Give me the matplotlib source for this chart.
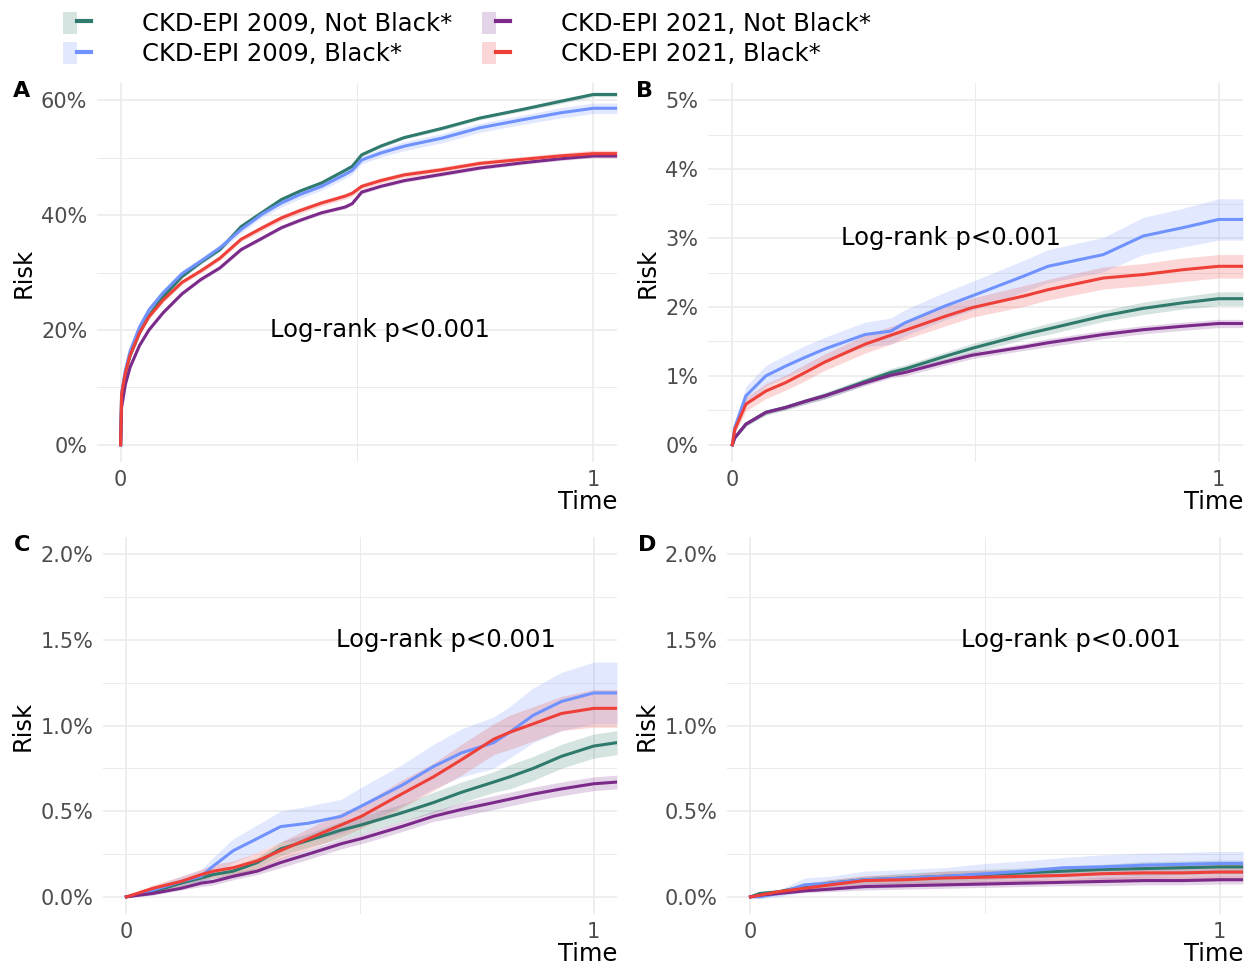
import matplotlib
matplotlib.use("Agg")
import matplotlib.pyplot as plt
from matplotlib.lines import Line2D
from matplotlib.patches import Patch
from matplotlib.legend_handler import HandlerTuple
from matplotlib.ticker import FixedLocator
import numpy as np

LABELS = ["CKD-EPI 2009, Not Black*", "CKD-EPI 2009, Black*",
          "CKD-EPI 2021, Not Black*", "CKD-EPI 2021, Black*"]
COLORS = ["#2F7A6D", "#7092FF", "#7B2A8A", "#EE4038"]

# panel A (risk in %)
A_T = [0, 0.002, 0.01, 0.02, 0.04, 0.06, 0.09, 0.13, 0.17, 0.21, 0.255, 0.3, 0.34,
       0.38, 0.425, 0.475, 0.49, 0.51, 0.55, 0.6, 0.68, 0.76, 0.85, 0.93, 1.0, 1.05]
A_TEAL = [0, 8.5, 12.5, 15.5, 19.5, 22.5, 25.8, 29.3, 31.8, 34.0, 38.0, 40.5, 42.7,
          44.2, 45.6, 47.8, 48.5, 50.5, 52.0, 53.5, 55.1, 56.9, 58.4, 59.8, 61.0, 61.0]
A_BLUE = [0, 9.0, 13.0, 16.3, 20.5, 23.5, 26.5, 29.8, 32.0, 34.3, 37.5, 40.2, 42.1,
          43.6, 45.0, 47.1, 47.8, 49.6, 50.8, 52.0, 53.4, 55.2, 56.6, 57.8, 58.6, 58.6]
A_PURPLE = [0, 6.5, 10.5, 13.5, 17.3, 20.0, 23.0, 26.3, 28.8, 30.8, 34.0, 36.0, 37.8,
            39.1, 40.4, 41.4, 42.0, 44.0, 45.0, 46.0, 47.1, 48.2, 49.1, 49.8, 50.3, 50.3]
A_RED = [0, 8.8, 12.5, 15.6, 19.5, 22.3, 25.2, 28.3, 30.3, 32.5, 35.8, 37.8, 39.5,
         40.8, 42.1, 43.3, 43.8, 45.0, 46.0, 47.0, 47.9, 49.0, 49.7, 50.3, 50.7, 50.7]
A_TEAL_CI = [0, 0.3, 0.3, 0.3, 0.3, 0.3, 0.3, 0.3, 0.3, 0.3, 0.3, 0.3, 0.3,
             0.3, 0.3, 0.3, 0.3, 0.3, 0.3, 0.3, 0.3, 0.3, 0.3, 0.4, 0.4, 0.4]
A_BLUE_CI = [0, 0.5, 0.5, 0.5, 0.5, 0.5, 0.5, 0.6, 0.6, 0.6, 0.6, 0.6, 0.7,
             0.7, 0.7, 0.7, 0.7, 0.7, 0.7, 0.8, 0.8, 0.8, 0.8, 0.9, 0.9, 0.9]
A_PURPLE_CI = [0, 0.3, 0.3, 0.3, 0.3, 0.3, 0.3, 0.3, 0.3, 0.3, 0.3, 0.3, 0.3,
               0.3, 0.3, 0.3, 0.3, 0.3, 0.3, 0.3, 0.3, 0.3, 0.3, 0.3, 0.3, 0.3]
A_RED_CI = [0, 0.4, 0.4, 0.4, 0.4, 0.4, 0.4, 0.4, 0.4, 0.4, 0.4, 0.5, 0.5,
            0.5, 0.5, 0.5, 0.5, 0.5, 0.5, 0.5, 0.5, 0.5, 0.5, 0.5, 0.6, 0.6]

# panel B
B_T = [0, 0.005, 0.028, 0.069, 0.109, 0.15, 0.19, 0.273, 0.326, 0.355, 0.436,
       0.493, 0.6, 0.649, 0.763, 0.845, 0.926, 1.0, 1.05]
B_TEAL = [0, 0.10, 0.30, 0.47, 0.54, 0.63, 0.71, 0.92, 1.05, 1.10, 1.28,
          1.40, 1.60, 1.68, 1.87, 1.98, 2.06, 2.12, 2.12]
B_BLUE = [0, 0.25, 0.71, 1.00, 1.14, 1.27, 1.39, 1.60, 1.65, 1.77, 2.01,
          2.16, 2.45, 2.59, 2.76, 3.03, 3.15, 3.27, 3.27]
B_PURPLE = [0, 0.10, 0.30, 0.47, 0.54, 0.63, 0.71, 0.90, 1.01, 1.05, 1.20,
            1.30, 1.42, 1.48, 1.60, 1.67, 1.72, 1.76, 1.76]
B_RED = [0, 0.22, 0.59, 0.78, 0.90, 1.05, 1.20, 1.46, 1.59, 1.66, 1.86,
         1.99, 2.16, 2.25, 2.42, 2.47, 2.54, 2.59, 2.59]
B_TEAL_CI = [0, 0.02, 0.03, 0.04, 0.04, 0.04, 0.05, 0.05, 0.06, 0.06, 0.06,
             0.07, 0.07, 0.08, 0.08, 0.09, 0.09, 0.10, 0.10]
B_BLUE_CI = [0, 0.08, 0.14, 0.15, 0.16, 0.17, 0.17, 0.18, 0.19, 0.19, 0.20,
             0.21, 0.23, 0.24, 0.25, 0.27, 0.28, 0.30, 0.30]
B_PURPLE_CI = [0, 0.02, 0.03, 0.03, 0.03, 0.04, 0.04, 0.04, 0.04, 0.05, 0.05,
               0.05, 0.05, 0.06, 0.06, 0.06, 0.06, 0.06, 0.06]
B_RED_CI = [0, 0.06, 0.10, 0.11, 0.11, 0.12, 0.12, 0.13, 0.13, 0.13, 0.14,
            0.14, 0.15, 0.15, 0.16, 0.16, 0.17, 0.17, 0.17]

# panel C
C_T = [0, 0.057, 0.117, 0.16, 0.186, 0.229, 0.28, 0.33, 0.39, 0.46, 0.503,
       0.589, 0.657, 0.717, 0.786, 0.82, 0.871, 0.931, 1.0, 1.05]
C_TEAL = [0, 0.03, 0.08, 0.11, 0.13, 0.15, 0.20, 0.28, 0.33, 0.39, 0.42,
          0.49, 0.55, 0.61, 0.67, 0.70, 0.75, 0.82, 0.88, 0.90]
C_BLUE = [0, 0.04, 0.09, 0.12, 0.18, 0.27, 0.34, 0.41, 0.43, 0.47, 0.53,
          0.65, 0.76, 0.84, 0.90, 0.96, 1.06, 1.14, 1.19, 1.19]
C_PURPLE = [0, 0.02, 0.05, 0.08, 0.09, 0.12, 0.15, 0.20, 0.25, 0.31, 0.34,
            0.41, 0.47, 0.51, 0.55, 0.57, 0.60, 0.63, 0.66, 0.67]
C_RED = [0, 0.05, 0.09, 0.13, 0.15, 0.17, 0.21, 0.27, 0.34, 0.42, 0.47,
         0.60, 0.70, 0.80, 0.92, 0.96, 1.01, 1.07, 1.10, 1.10]
C_TEAL_CI = [0, 0.01, 0.02, 0.02, 0.02, 0.03, 0.03, 0.04, 0.04, 0.05, 0.05,
             0.05, 0.06, 0.06, 0.06, 0.07, 0.07, 0.07, 0.07, 0.07]
C_BLUE_CI = [0, 0.02, 0.03, 0.04, 0.05, 0.07, 0.08, 0.09, 0.10, 0.10, 0.11,
             0.12, 0.13, 0.14, 0.15, 0.15, 0.16, 0.17, 0.18, 0.18]
C_PURPLE_CI = [0, 0.01, 0.01, 0.02, 0.02, 0.02, 0.02, 0.03, 0.03, 0.03, 0.03,
               0.03, 0.03, 0.04, 0.04, 0.04, 0.04, 0.04, 0.04, 0.04]
C_RED_CI = [0, 0.02, 0.03, 0.03, 0.04, 0.04, 0.05, 0.05, 0.06, 0.07, 0.07,
            0.08, 0.08, 0.09, 0.09, 0.10, 0.10, 0.10, 0.11, 0.11]

# panel D
D_T = [0, 0.02, 0.06, 0.115, 0.17, 0.243, 0.33, 0.413, 0.5, 0.583, 0.668,
       0.75, 0.838, 0.92, 1.0, 1.05]
D_TEAL = [0, 0.02, 0.03, 0.06, 0.08, 0.10, 0.11, 0.12, 0.13, 0.14, 0.15,
          0.16, 0.165, 0.17, 0.175, 0.175]
D_BLUE = [0, 0.0, 0.02, 0.07, 0.08, 0.10, 0.11, 0.12, 0.135, 0.15, 0.17,
          0.175, 0.185, 0.19, 0.195, 0.195]
D_PURPLE = [0, 0.01, 0.02, 0.035, 0.045, 0.06, 0.065, 0.07, 0.075, 0.08, 0.085,
            0.09, 0.095, 0.095, 0.10, 0.10]
D_RED = [0, 0.01, 0.03, 0.05, 0.07, 0.095, 0.10, 0.11, 0.115, 0.12, 0.125,
         0.135, 0.14, 0.14, 0.145, 0.145]
D_TEAL_CI = [0, 0.01, 0.01, 0.02, 0.02, 0.02, 0.03, 0.03, 0.03, 0.03, 0.03,
             0.03, 0.04, 0.04, 0.04, 0.04]
D_BLUE_CI = [0, 0.01, 0.02, 0.04, 0.04, 0.05, 0.05, 0.05, 0.06, 0.06, 0.06,
             0.07, 0.07, 0.07, 0.07, 0.07]
D_PURPLE_CI = [0, 0.005, 0.01, 0.01, 0.015, 0.02, 0.02, 0.02, 0.02, 0.02, 0.02,
               0.025, 0.025, 0.025, 0.025, 0.025]
D_RED_CI = [0, 0.01, 0.01, 0.02, 0.03, 0.03, 0.03, 0.04, 0.04, 0.04, 0.04,
            0.05, 0.05, 0.05, 0.05, 0.05]

A_YTICKS = [0, 20, 40, 60]
B_YTICKS = [0, 1, 2, 3, 4, 5]
CD_YTICKS = [0.0, 0.5, 1.0, 1.5, 2.0]

PANELS = [
    dict(letter="A", rect=[97, 83, 617, 462], t=A_T,
         series=[(A_TEAL, A_TEAL_CI), (A_BLUE, A_BLUE_CI), (A_PURPLE, A_PURPLE_CI), (A_RED, A_RED_CI)],
         yticks=A_YTICKS, fmt="{:.0f}%", text_xy=(0.549, 20), letter_xy=(22, 91)),
    dict(letter="B", rect=[708, 83, 1243, 462], t=B_T,
         series=[(B_TEAL, B_TEAL_CI), (B_BLUE, B_BLUE_CI), (B_PURPLE, B_PURPLE_CI), (B_RED, B_RED_CI)],
         yticks=B_YTICKS, fmt="{:.0f}%", text_xy=(0.45, 3), letter_xy=(645, 91)),
    dict(letter="C", rect=[103, 537, 617, 914], t=C_T,
         series=[(C_TEAL, C_TEAL_CI), (C_BLUE, C_BLUE_CI), (C_PURPLE, C_PURPLE_CI), (C_RED, C_RED_CI)],
         yticks=CD_YTICKS, fmt="{:.1f}%", text_xy=(0.684, 1.5), letter_xy=(22, 545)),
    dict(letter="D", rect=[727, 537, 1243, 914], t=D_T,
         series=[(D_TEAL, D_TEAL_CI), (D_BLUE, D_BLUE_CI), (D_PURPLE, D_PURPLE_CI), (D_RED, D_RED_CI)],
         yticks=CD_YTICKS, fmt="{:.1f}%", text_xy=(0.684, 1.5), letter_xy=(647, 545)),
]

W, H = 1249, 969
fig = plt.figure(figsize=(W / 100, H / 100), dpi=100)
FS_TICK = 15
FS = 17.5

for p in PANELS:
    x0, y0, x1, y1 = p["rect"]
    ax = fig.add_axes([x0 / W, 1 - y1 / H, (x1 - x0) / W, (y1 - y0) / H])
    t = np.array(p["t"])
    for (vals, ci), col in zip(p["series"], COLORS):
        v = np.array(vals)
        c = np.array(ci)
        ax.fill_between(t, v - c, v + c, color=col, alpha=0.2, lw=0)
        ax.plot(t, v, color=col, lw=2.2, solid_joinstyle="round")
    top = p["yticks"][-1]
    ax.set_xlim(-0.05, 1.05)
    ax.set_ylim(-0.05 * top, 1.05 * top)
    ax.set_xticks([0, 1])
    ax.set_xticklabels(["0", "1"])
    ax.xaxis.set_minor_locator(FixedLocator([0.5]))
    yt = p["yticks"]
    ax.set_yticks(yt)
    ax.set_yticklabels([p["fmt"].format(v) for v in yt])
    ax.yaxis.set_minor_locator(FixedLocator([(a + b) / 2 for a, b in zip(yt[:-1], yt[1:])]))
    ax.grid(which="major", color="#EBEBEB", lw=1.2)
    ax.grid(which="minor", color="#EBEBEB", lw=0.7)
    ax.set_axisbelow(True)
    for s in ax.spines.values():
        s.set_visible(False)
    ax.tick_params(which="both", length=0, labelsize=FS_TICK, labelcolor="#4D4D4D")
    ax.tick_params(axis="y", pad=7)
    ax.tick_params(axis="x", pad=6)
    ax.set_xlabel("Time", loc="right", fontsize=FS, labelpad=0)
    ax.set_ylabel("Risk", fontsize=FS, labelpad=4)
    ax.text(*p["text_xy"], "Log-rank p<0.001", ha="center", va="center", fontsize=FS)
    fig.text(p["letter_xy"][0] / W, 1 - p["letter_xy"][1] / H, p["letter"],
             fontsize=16, fontweight="bold", ha="center", va="center")

handles = [(Patch(facecolor=c, alpha=0.2, lw=0), Line2D([], [], color=c, lw=3))
           for c in COLORS]
fig.legend(handles, LABELS, handler_map={tuple: HandlerTuple(ndivide=None, pad=0)},
           loc="upper left", bbox_to_anchor=(41 / W, 1 + 10 / H), ncol=2, frameon=False,
           fontsize=FS, handlelength=1.15, handleheight=1.0, handletextpad=2.1,
           columnspacing=1.22, labelspacing=0.25)

fig.savefig("out.png", dpi=100)
